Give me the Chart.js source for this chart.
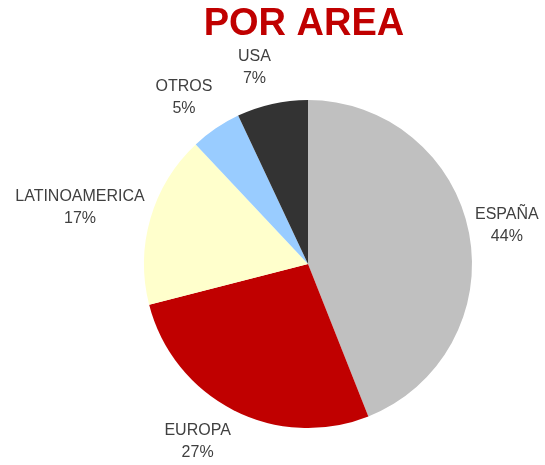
<!DOCTYPE html>
<html>
<head>
<meta charset="utf-8">
<script src="https://cdn.jsdelivr.net/npm/chart.js@4/dist/chart.umd.min.js"></script>
<style>
  html, body { margin: 0; padding: 0; background: #fff; }
  #wrap { width: 545px; height: 465px; }
</style>
</head>
<body>
<div id="wrap"><canvas id="grafica"></canvas></div>
<script>
const areas = ["ESPAÑA", "EUROPA", "LATINOAMERICA", "OTROS", "USA"];
const porcentajes = [44, 27, 17, 5, 7];
const colores = ["#C0C0C0", "#C00000", "#FFFFCC", "#99CCFF", "#333333"];
const titulo = "POR AREA";

// title + outside labels (name and percentage) drawn next to each slice
const etiquetas = {
  id: "etiquetas",
  afterDraw(chart) {
    const ctx = chart.ctx;
    ctx.save();
    ctx.fillStyle = "#C00000";
    ctx.font = "bold 38px 'Liberation Sans', Arial, sans-serif";
    ctx.textAlign = "center";
    ctx.textBaseline = "alphabetic";
    ctx.fillText(titulo, 304, 35);

    ctx.font = "16px 'Liberation Sans', Arial, sans-serif";
    ctx.fillStyle = "#404040";
    ctx.textBaseline = "middle";
    const arcs = chart.getDatasetMeta(0).data;
    arcs.forEach((arc, i) => {
      const mid = (arc.startAngle + arc.endAngle) / 2;
      const c = Math.cos(mid), s = Math.sin(mid);
      const ox = arc.x + c * arc.outerRadius;
      const oy = arc.y + s * arc.outerRadius;
      const lineas = [areas[i], porcentajes[i] + "%"];
      const w = Math.max(...lineas.map(t => ctx.measureText(t).width));
      const x = ox + c * 6 + Math.sign(c) * w / 2;
      const y = oy + s * 36 - 1;
      ctx.fillText(lineas[0], x, y - 11);
      ctx.fillText(lineas[1], x, y + 11);
    });
    ctx.restore();
  }
};

new Chart(document.getElementById("grafica"), {
  type: "pie",
  data: {
    labels: areas,
    datasets: [{
      data: porcentajes,
      backgroundColor: colores,
      borderWidth: 0,
      hoverOffset: 0
    }]
  },
  options: {
    responsive: true,
    maintainAspectRatio: false,
    animation: false,
    layout: { padding: { top: 100, bottom: 37, left: 144, right: 73 } },
    plugins: {
      legend: { display: false },
      tooltip: { enabled: false }
    }
  },
  plugins: [etiquetas]
});
</script>
</body>
</html>
